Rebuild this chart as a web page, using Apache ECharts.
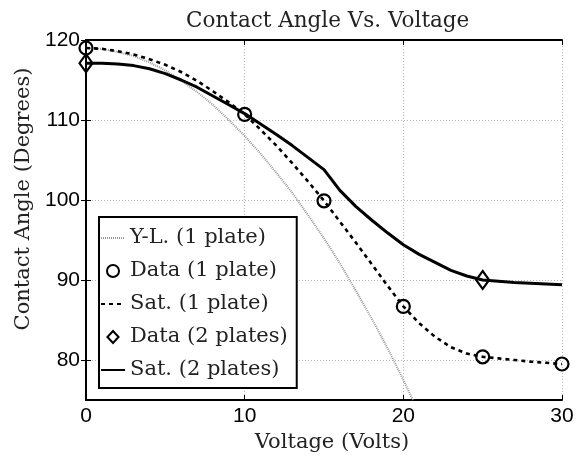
<!DOCTYPE html>
<html>
<head>
<meta charset="utf-8">
<script src="https://cdn.jsdelivr.net/npm/echarts@6/dist/echarts.min.js"></script>
<style>
html,body{margin:0;padding:0;background:#fff;}
#chart{width:582px;height:460px;}
</style>
</head>
<body>
<div id="chart"></div>
<script>
// ---- data ----
const xTicks = [0, 10, 20, 30];
const yTicks = [80, 90, 100, 110, 120];

// Young-Lippmann (1 plate)
const ylVolts = [0, 1, 2, 3, 4, 5, 6, 7, 8, 9, 10, 11, 12, 13, 14, 15, 16, 17, 18, 19, 20, 20.6];
const ylAngle = [119.0, 118.9, 118.5, 118.0, 117.2, 116.2, 114.9, 113.5, 111.9, 110.0, 108.0, 105.8, 103.4, 100.9, 98.1, 95.2, 92.1, 88.7, 85.2, 81.5, 77.5, 75.0];

// Measured data
const data1Volts = [0, 10, 15, 20, 25, 30];
const data1Angle = [119.0, 110.7, 99.9, 86.7, 80.4, 79.5];
const data2Volts = [0, 25];
const data2Angle = [117.1, 90.0];

// Saturation fits
const satVolts = [0, 1, 2, 3, 4, 5, 6, 7, 8, 9, 10, 11, 12, 13, 14, 15, 16, 17, 18, 19, 20, 21, 22, 23, 24, 25, 26, 27, 28, 29, 30];
const sat1Angle = [119.0, 118.9, 118.6, 118.2, 117.6, 116.9, 116.0, 114.9, 113.6, 112.2, 110.7, 108.8, 106.8, 104.6, 102.3, 99.9, 97.3, 94.7, 92.0, 89.3, 86.7, 84.6, 82.9, 81.6, 80.8, 80.4, 80.2, 80.0, 79.8, 79.65, 79.5];
const sat2Angle = [117.1, 117.1, 117.0, 116.8, 116.4, 115.8, 115.0, 114.1, 113.0, 111.9, 110.8, 109.5, 108.2, 106.8, 105.3, 103.8, 101.2, 99.2, 97.5, 95.9, 94.4, 93.2, 92.2, 91.2, 90.5, 90.0, 89.85, 89.7, 89.6, 89.5, 89.4];

const names = ['Y-L. (1 plate)', 'Data (1 plate)', 'Sat. (1 plate)', 'Data (2 plates)', 'Sat. (2 plates)'];

const pairs = (xs, ys) => xs.map((x, i) => [x, ys[i]]);

const serif = 'DejaVu Serif';
const sans = 'Liberation Sans';
const txt = '#222';
const noDot = {color: 'rgba(0,0,0,0)', borderWidth: 0};

const chart = echarts.init(document.getElementById('chart'), null, {renderer: 'canvas'});

const hiddenAxisCommon = {
  axisLine: {show: true, lineStyle: {color: '#000', width: 2}},
  axisLabel: {show: false},
  splitLine: {show: false}
};

chart.setOption({
  animation: false,
  backgroundColor: '#fff',
  title: {
    text: 'Contact Angle Vs. Voltage',
    left: 181, top: 5,
    textStyle: {fontFamily: serif, fontSize: 21.5, fontWeight: 'normal', color: txt}
  },
  grid: {left: 86, right: 20, top: 40, bottom: 60, containLabel: false},
  legend: {
    orient: 'vertical',
    left: 99, top: 217,
    data: [
      {name: names[0]},
      {name: names[1], icon: 'circle'},
      {name: names[2]},
      {name: names[3], icon: 'path://M6.5,0 L13,7 L6.5,14 L0,7 Z'},
      {name: names[4]}
    ],
    selectedMode: false,
    symbolKeepAspect: true,
    backgroundColor: '#fff',
    borderColor: '#000',
    borderWidth: 2,
    borderRadius: 0,
    padding: [10, 9, 7, 1],
    itemWidth: 24,
    itemHeight: 12,
    itemGap: 11,
    textStyle: {fontFamily: serif, fontSize: 21, color: txt, lineHeight: 22}
  },
  xAxis: [{
    type: 'value', min: 0, max: 30, interval: 10, position: 'bottom',
    name: 'Voltage (Volts)', nameLocation: 'middle', nameGap: 31,
    nameTextStyle: {fontFamily: serif, fontSize: 21, color: txt, padding: [0, 0, 0, 16]},
    axisLine: {show: true, lineStyle: {color: '#000', width: 2}},
    axisTick: {show: true, inside: true, length: 5, customValues: xTicks, lineStyle: {color: '#000', width: 1}},
    axisLabel: {customValues: xTicks, fontFamily: sans, fontSize: 21, color: '#000', margin: 6},
    splitLine: {show: true, lineStyle: {color: '#b5b5b5', width: 1, type: [1, 2]}}
  }, Object.assign({
    type: 'value', min: 0, max: 30, interval: 10, position: 'top',
    axisTick: {show: true, inside: true, length: 5, customValues: xTicks, lineStyle: {color: '#000', width: 1}}
  }, hiddenAxisCommon)],
  yAxis: [{
    type: 'value', min: 75, max: 120, position: 'left',
    name: 'Contact Angle (Degrees)', nameLocation: 'middle', nameGap: 51,
    nameTextStyle: {fontFamily: serif, fontSize: 21, color: txt, padding: [0, 0, 0, 42]},
    axisLine: {show: true, lineStyle: {color: '#000', width: 2}},
    axisTick: {show: true, inside: true, length: 5, customValues: yTicks, lineStyle: {color: '#000', width: 1}},
    axisLabel: {customValues: yTicks, fontFamily: sans, fontSize: 21, color: '#000', margin: 6},
    splitLine: {show: true, lineStyle: {color: '#b5b5b5', width: 1, type: [1, 2]}}
  }, Object.assign({
    type: 'value', min: 75, max: 120, position: 'right',
    axisTick: {show: true, inside: true, length: 5, customValues: yTicks, lineStyle: {color: '#000', width: 1}}
  }, hiddenAxisCommon)],
  series: [
    {
      name: names[0], type: 'line', symbol: 'none', smooth: false,
      data: pairs(ylVolts, ylAngle),
      lineStyle: {color: '#999', width: 2, type: [1, 1]},
      itemStyle: noDot,
      z: 2
    },
    {
      name: names[2], type: 'line', symbol: 'none', smooth: false,
      data: pairs(satVolts, sat1Angle),
      lineStyle: {color: '#000', width: 2.6, type: [4, 4]},
      itemStyle: noDot,
      z: 3
    },
    {
      name: names[4], type: 'line', symbol: 'none', smooth: false,
      data: pairs(satVolts, sat2Angle),
      lineStyle: {color: '#000', width: 3},
      itemStyle: noDot,
      z: 3
    },
    {
      name: names[1], type: 'scatter', symbol: 'circle', symbolSize: 13,
      data: pairs(data1Volts, data1Angle),
      itemStyle: {color: 'rgba(0,0,0,0)', borderColor: '#000', borderWidth: 2.2, opacity: 1},
      clip: false,
      z: 5
    },
    {
      name: names[3], type: 'scatter', symbol: 'diamond', symbolSize: [13, 18],
      data: pairs(data2Volts, data2Angle),
      itemStyle: {color: 'rgba(0,0,0,0)', borderColor: '#000', borderWidth: 2.2, opacity: 1},
      clip: false,
      z: 5
    }
  ]
});
</script>
</body>
</html>
